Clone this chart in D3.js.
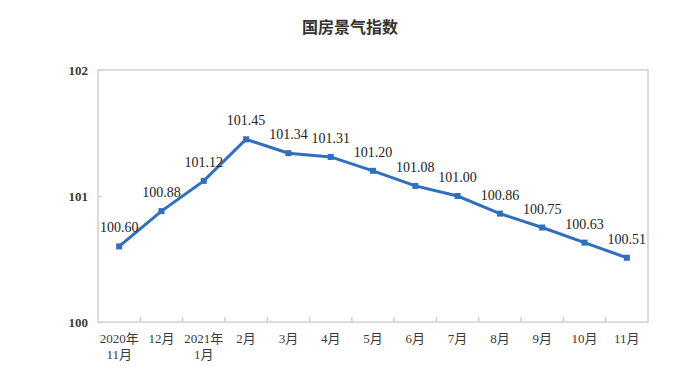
<!DOCTYPE html>
<html>
<head>
<meta charset="utf-8">
<script src="https://cdn.jsdelivr.net/npm/d3@7"></script>
<style>
  body { margin: 0; background: #fff; }
  svg { display: block; }
</style>
</head>
<body>
<div class="chart"></div>
<script>
var w = 700,
  h = 390,
  margin = {top: 70, right: 52, bottom: 68, left: 98};

var categories = ['2020年\n11月', '12月', '2021年\n1月', '2月', '3月', '4月', '5月', '6月', '7月', '8月', '9月', '10月', '11月'];
var values = [100.60, 100.88, 101.12, 101.45, 101.34, 101.31, 101.20, 101.08, 101.00, 100.86, 100.75, 100.63, 100.51];
var yTicks = [100, 101, 102];

var svg = d3.select('.chart')
  .append('svg')
  .attr('width', w)
  .attr('height', h);

var x = d3.scaleBand()
  .domain(categories)
  .range([margin.left, w - margin.right]);

var y = d3.scaleLinear()
  .domain([100, 102])
  .range([h - margin.bottom, margin.top]);

var axisColor = '#d0d0d0',
  textColor = '#3a3a3a',
  serif = '"Liberation Serif", "Noto Sans CJK SC", serif';

// title
svg.append('text')
  .attr('x', 350)
  .attr('y', 33)
  .attr('text-anchor', 'middle')
  .style('font-family', '"Noto Sans CJK SC", sans-serif')
  .style('font-size', '16px')
  .style('font-weight', 'bold')
  .style('fill', '#333')
  .text('国房景气指数');

// frame
svg.append('rect')
  .attr('x', margin.left)
  .attr('y', margin.top)
  .attr('width', w - margin.left - margin.right)
  .attr('height', h - margin.top - margin.bottom)
  .attr('fill', 'none')
  .attr('stroke', axisColor)
  .attr('stroke-width', 1.5);

// y axis
var yAxis = svg.append('g')
  .attr('transform', 'translate(' + margin.left + ',0)')
  .call(d3.axisLeft(y).tickValues(yTicks).tickSize(-4).tickPadding(10).tickFormat(d3.format('d')));
yAxis.select('.domain').remove();
yAxis.selectAll('line').attr('stroke', axisColor).attr('stroke-width', 1.5);
yAxis.selectAll('text')
  .style('font-family', serif)
  .style('font-size', '13px')
  .style('font-weight', 'bold')
  .style('fill', textColor);

// x axis ticks at band boundaries
var bounds = categories.slice(1).map(function (c) { return x(c); });
svg.selectAll('.xtick')
  .data(bounds)
  .enter()
  .append('line')
  .attr('x1', function (d) { return d; })
  .attr('x2', function (d) { return d; })
  .attr('y1', h - margin.bottom)
  .attr('y2', h - margin.bottom - 5)
  .attr('stroke', axisColor)
  .attr('stroke-width', 1.5);

// x labels
svg.selectAll('.xlabel')
  .data(categories)
  .enter()
  .append('text')
  .attr('text-anchor', 'middle')
  .attr('x', function (d) { return x(d) + x.bandwidth() / 2; })
  .attr('y', 343)
  .style('font-family', serif)
  .style('font-size', '13px')
  .style('fill', textColor)
  .each(function (d) {
    var el = d3.select(this);
    d.split('\n').forEach(function (line, i) {
      el.append('tspan')
        .attr('x', x(d) + x.bandwidth() / 2)
        .attr('dy', i === 0 ? 0 : 16)
        .text(line);
    });
  });

// line
var line = d3.line()
  .x(function (d, i) { return x(categories[i]) + x.bandwidth() / 2; })
  .y(function (d) { return y(d); });

svg.append('path')
  .datum(values)
  .attr('d', line)
  .attr('fill', 'none')
  .attr('stroke', '#2f6fbf')
  .attr('stroke-width', 3);

svg.selectAll('.marker')
  .data(values)
  .enter()
  .append('rect')
  .attr('x', function (d, i) { return x(categories[i]) + x.bandwidth() / 2 - 3; })
  .attr('y', function (d) { return y(d) - 3; })
  .attr('width', 6)
  .attr('height', 6)
  .attr('fill', '#2f6fbf');

// value labels
svg.selectAll('.vlabel')
  .data(values)
  .enter()
  .append('text')
  .attr('text-anchor', 'middle')
  .attr('x', function (d, i) { return x(categories[i]) + x.bandwidth() / 2; })
  .attr('y', function (d) { return y(d) - 14; })
  .style('font-family', serif)
  .style('font-size', '14px')
  .style('fill', '#222')
  .text(function (d) { return d.toFixed(2); });
</script>
</body>
</html>
